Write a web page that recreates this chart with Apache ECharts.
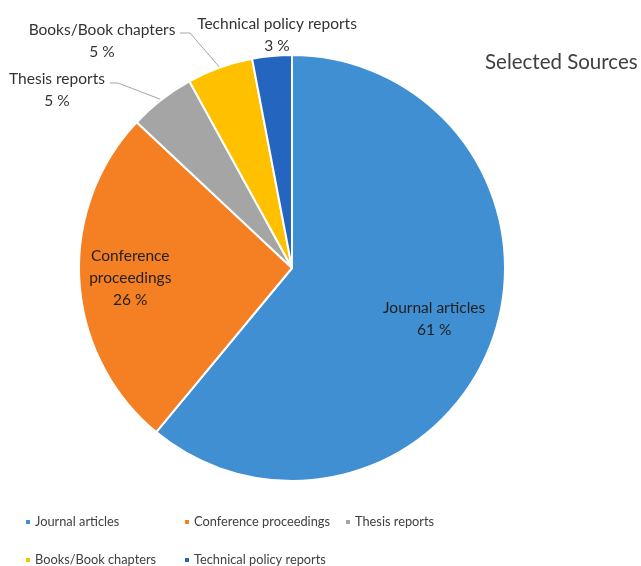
<!DOCTYPE html>
<html>
<head>
<meta charset="utf-8">
<script src="https://cdn.jsdelivr.net/npm/echarts@6/dist/echarts.min.js"></script>
<style>
  html, body { margin: 0; padding: 0; background: #ffffff; }
  #chart { width: 641px; height: 566px; }
</style>
</head>
<body>
<div id="chart"></div>
<script>
// Share of selected sources by type (percent)
const categories = ['Journal articles', 'Conference proceedings', 'Thesis reports', 'Books/Book chapters', 'Technical policy reports'];
const shares = [61, 26, 5, 5, 3];
const sliceColors = ['#3F8FD2', '#F58024', '#A5A5A5', '#FFC000', '#2465BF'];

const FONT = 'Lato, "Open Sans", sans-serif';
const CENTER = [292, 268];
const RADIUS = 213;

// Inside labels sit further out than the default half radius
const insideScale = { 0: 1.38, 1: 1.48 };
// Outside labels: text block centre and the bend/end of the leader line
const outsidePlacement = {
  2: { x: 57, y: 90, bend: [118, 83], end: [110, 83] },
  3: { x: 102, y: 41, bend: [190, 33], end: [180, 33] },
  4: { x: 277, y: 35 }
};

// Legend grid: one entry per category, laid out in columns and rows
const legendCells = [
  { col: 0, row: 0 }, { col: 1, row: 0 }, { col: 2, row: 0 },
  { col: 0, row: 1 }, { col: 1, row: 1 }
];
const legendColX = [24, 183, 344];
const legendRowY = [514, 552];

const chart = echarts.init(document.getElementById('chart'));

const pieData = categories.map((name, i) => {
  const item = { name: name, value: shares[i], itemStyle: { color: sliceColors[i] } };
  if (i < 2) {
    item.label = { position: 'inside', color: '#1f1f1f' };
    item.labelLine = { show: false };
  } else if (i === 4) {
    item.labelLine = { show: false };
  }
  return item;
});

const legends = categories.map((name, i) => ({
  left: legendColX[legendCells[i].col],
  top: legendRowY[legendCells[i].row],
  padding: 0,
  icon: 'rect',
  itemWidth: 6,
  itemHeight: 6,
  selectedMode: false,
  data: [name],
  textStyle: { fontFamily: FONT, fontSize: 12.8, color: '#404040', lineHeight: 16, padding: [0, 0, 0, -1] }
}));

chart.setOption({
  animation: false,
  backgroundColor: '#ffffff',
  color: sliceColors,
  title: {
    text: 'Selected Sources',
    left: 485,
    top: 52,
    padding: 0,
    textStyle: { fontFamily: FONT, fontSize: 20.5, fontWeight: 'normal', color: '#404040' }
  },
  legend: legends,
  series: [{
    type: 'pie',
    center: CENTER,
    radius: RADIUS,
    startAngle: 90,
    clockwise: true,
    avoidLabelOverlap: false,
    itemStyle: { borderColor: '#ffffff', borderWidth: 2 },
    emphasis: { disabled: true },
    label: {
      show: true,
      position: 'outside',
      fontFamily: FONT,
      fontSize: 15.5,
      lineHeight: 22,
      color: '#333333',
      align: 'center',
      formatter: function (p) {
        const name = p.dataIndex === 1 ? 'Conference\nproceedings' : p.name;
        return name + '\n' + p.value + ' %';
      }
    },
    labelLine: {
      show: true,
      lineStyle: { color: '#a6a6a6', width: 1 }
    },
    labelLayout: function (params) {
      const i = params.dataIndex;
      const r = params.labelRect;
      if (insideScale[i] != null) {
        const k = insideScale[i];
        const lx = r.x + r.width / 2;
        const ly = r.y + r.height / 2;
        return {
          x: CENTER[0] + (lx - CENTER[0]) * k,
          y: CENTER[1] + (ly - CENTER[1]) * k,
          align: 'center',
          verticalAlign: 'middle'
        };
      }
      const p = outsidePlacement[i];
      if (!p) return {};
      const out = { x: p.x, y: p.y, align: 'center', verticalAlign: 'middle' };
      if (p.bend && params.labelLinePoints) {
        out.labelLinePoints = [params.labelLinePoints[0], p.bend, p.end];
      }
      return out;
    },
    data: pieData
  }]
});
</script>
</body>
</html>
